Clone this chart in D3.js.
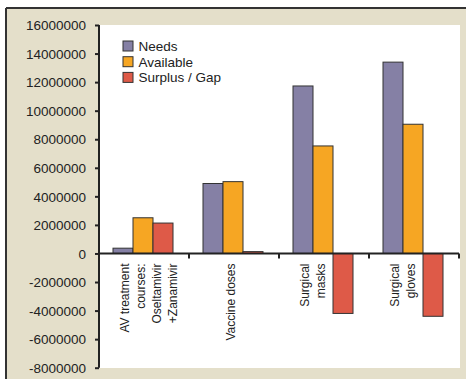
<!DOCTYPE html>
<html lang="en">
<head>
<meta charset="UTF-8">
<title>Needs vs Available</title>
<script src="https://d3js.org/d3.v7.min.js"></script>
<style>
  body { margin: 0; padding: 0; background: #fff; }
  svg { display: block; font-family: 'Liberation Sans', Arial, sans-serif; }
  .tick-label { font-size: 13.5px; fill: #222; }
  .legend-label { font-size: 13.5px; fill: #222; }
  .cat-label { font-size: 12px; fill: #222; }
</style>
</head>
<body>
<script>
// data
var categories = [
  ["AV treatment", "courses:", "Oseltamivir", "+Zanamivir"],
  ["Vaccine doses"],
  ["Surgical", "masks"],
  ["Surgical", "gloves"]
];
var seriesNames = ["Needs", "Available", "Surplus / Gap"];
var needs     = [370000, 4900000, 11730000, 13400000];
var available = [2500000, 5030000, 7530000, 9050000];
var surplus   = [2130000, 130000, -4200000, -4400000];
var yTicks = [-8000000, -6000000, -4000000, -2000000, 0, 2000000, 4000000,
              6000000, 8000000, 10000000, 12000000, 14000000, 16000000];
var colors = ["#8580a5", "#f6a623", "#de5a48"];

var W = 466, H = 379;
var svg = d3.select("body").append("svg")
    .attr("width", W)
    .attr("height", H);

// beige frame
svg.append("rect").attr("x", 6).attr("y", 8).attr("width", W - 6).attr("height", H - 8)
    .attr("fill", "#e4dfca");
svg.append("line").attr("x1", 6).attr("x2", W).attr("y1", 8).attr("y2", 8)
    .attr("stroke", "#333").attr("stroke-width", 2);
svg.append("line").attr("x1", 6).attr("x2", 6).attr("y1", 8).attr("y2", H)
    .attr("stroke", "#333").attr("stroke-width", 2);

var plot = { left: 99, right: 460, top: 25, bottom: 368 };
svg.append("rect")
    .attr("x", plot.left).attr("y", plot.top)
    .attr("width", plot.right - plot.left).attr("height", plot.bottom - plot.top)
    .attr("fill", "#fff");

var keys = categories.map(function(d, i) { return "c" + i; });
var x = d3.scaleBand().domain(keys).range([99, 459]);
var x1 = d3.scaleBand().domain(seriesNames).range([14, 74]);
var y = d3.scaleLinear().domain([-8000000, 16000000]).range([367.7, 25]);

var values = [needs, available, surplus];

// bars
var groups = svg.append("g").selectAll("g")
    .data(keys)
    .enter().append("g")
    .attr("transform", function(d) { return "translate(" + x(d) + ",0)"; });

groups.selectAll("rect")
    .data(function(d, i) {
      return seriesNames.map(function(s, j) { return { s: s, v: values[j][i], c: colors[j] }; });
    })
    .enter().append("rect")
    .attr("x", function(d) { return x1(d.s); })
    .attr("width", x1.bandwidth())
    .attr("y", function(d) { return Math.min(y(0), y(d.v)); })
    .attr("height", function(d) { return Math.abs(y(d.v) - y(0)); })
    .attr("fill", function(d) { return d.c; })
    .attr("stroke", "#333")
    .attr("stroke-width", 1);

// y axis (plain hyphen for negatives)
var yAxis = d3.axisLeft(y).tickValues(yTicks).tickSize(4)
    .tickFormat(function(d) { return String(d); });
var gy = svg.append("g").attr("transform", "translate(99,0)").call(yAxis);
gy.select(".domain").attr("stroke", "#222").attr("stroke-width", 2)
    .attr("d", "M0," + y(16000000) + "V" + y(-8000000));
gy.selectAll(".tick line").attr("stroke", "#222").attr("stroke-width", 2);
gy.selectAll(".tick text").attr("class", "tick-label").attr("x", -13).attr("dy", "0.35em");

// x axis at zero
var zy = y(0);
svg.append("line").attr("x1", 99).attr("x2", 459).attr("y1", zy).attr("y2", zy)
    .attr("stroke", "#222").attr("stroke-width", 2);
svg.append("g").selectAll("line")
    .data(keys)
    .enter().append("line")
    .attr("x1", function(d) { return x(d) + x.bandwidth(); })
    .attr("x2", function(d) { return x(d) + x.bandwidth(); })
    .attr("y1", zy).attr("y2", zy + 5)
    .attr("stroke", "#222").attr("stroke-width", 2);

// category labels (rotated)
categories.forEach(function(lines, i) {
  var cx = x(keys[i]) + x.bandwidth() / 2;
  var first = lines.length === 1 ? cx - 3 : cx - 19.5;
  lines.forEach(function(t, k) {
    var lx = first + k * 16;
    svg.append("text")
      .attr("class", "cat-label")
      .attr("transform", "translate(" + (lx + 4) + "," + (zy + 10) + ") rotate(-90)")
      .attr("text-anchor", "end")
      .text(t);
  });
});

// legend
var legend = svg.append("g").attr("transform", "translate(123,41)");
seriesNames.forEach(function(s, i) {
  var g = legend.append("g").attr("transform", "translate(0," + (i * 15.7) + ")");
  g.append("rect").attr("width", 10).attr("height", 10)
    .attr("fill", colors[i]).attr("stroke", "#333").attr("stroke-width", 1);
  g.append("text").attr("class", "legend-label").attr("x", 15.5).attr("y", 10).text(s);
});
</script>
</body>
</html>
